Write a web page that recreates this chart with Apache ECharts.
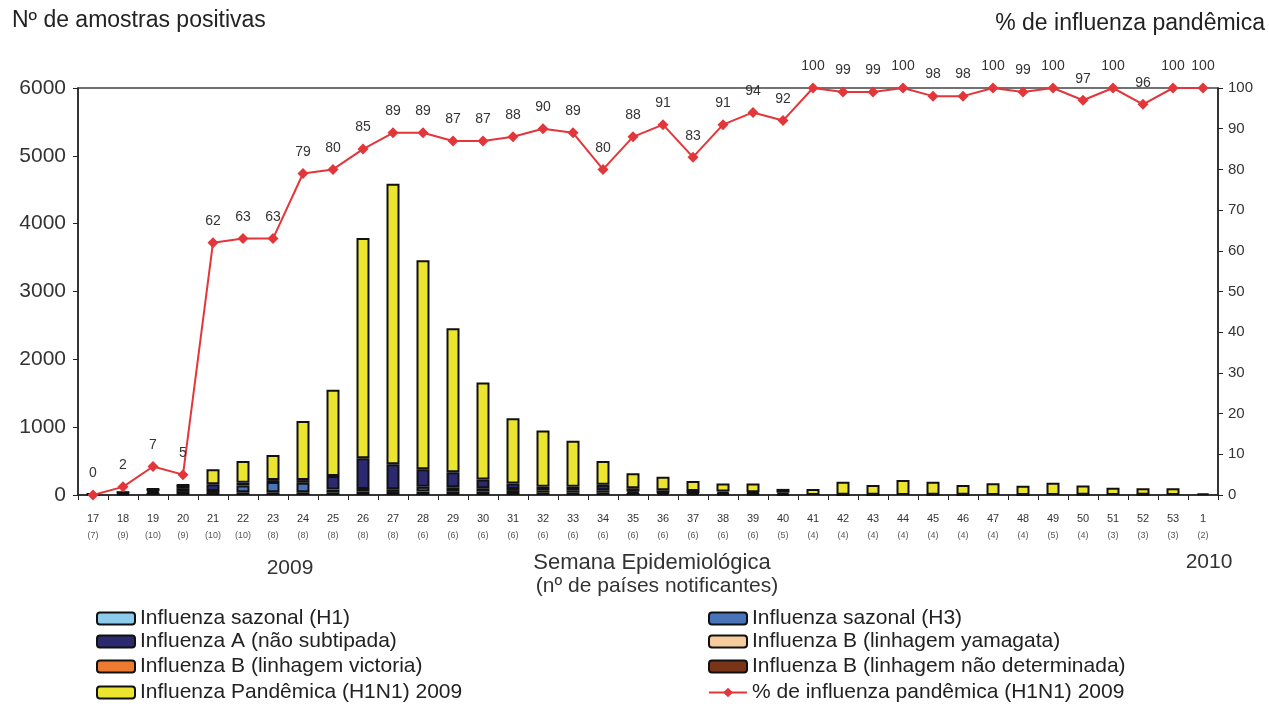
<!DOCTYPE html>
<html>
<head>
<meta charset="utf-8">
<script src="https://cdn.jsdelivr.net/npm/echarts@6/dist/echarts.min.js"></script>
<style>
html,body{margin:0;padding:0;background:#fff;}
#chart{width:1269px;height:706px;}
</style>
</head>
<body>
<div id="chart"></div>
<script>
const weeks = ['17','18','19','20','21','22','23','24','25','26','27','28','29','30','31','32','33','34','35','36','37','38','39','40','41','42','43','44','45','46','47','48','49','50','51','52','53','1'];
const countries = ['7','9','10','9','10','10','8','8','8','8','8','6','6','6','6','6','6','6','6','6','6','6','6','5','4','4','4','4','4','4','4','4','5','4','3','3','3','2'];

const sazonalH1 = [8,15,35,45,30,40,40,40,40,50,45,50,55,50,60,40,40,40,30,25,20,15,15,10,0,0,0,0,0,0,0,0,0,0,0,0,0,0];
const sazonalH3 = [5,10,20,45,30,100,150,140,40,40,40,70,60,50,30,30,30,30,20,10,10,10,5,0,0,0,0,0,0,0,0,0,0,0,0,0,0,0];
const aNaoSubtipada = [7,14,30,55,100,40,30,40,200,450,370,260,220,130,80,50,50,80,50,35,30,25,20,25,0,2,2,0,4,3,0,1,0,4,0,4,0,0];
const bYamagata = [0,0,0,0,0,0,0,0,0,0,0,0,0,0,0,0,0,0,0,0,0,0,0,0,0,0,0,0,0,0,0,0,0,0,0,0,0,0];
const bVictoria = [0,0,0,0,0,0,0,0,0,0,0,0,0,0,0,0,0,0,0,0,0,0,0,0,0,0,0,0,0,0,0,0,0,0,0,0,0,0];
const bNaoDeterminada = [0,0,0,0,0,0,0,0,0,0,0,0,0,0,0,0,0,0,0,0,0,0,0,0,0,0,0,0,0,0,0,0,0,0,0,0,0,0];
const pandemica = [0,1,5,5,220,320,370,870,1270,3250,4135,3080,2125,1430,960,830,680,350,220,200,145,120,130,55,88,194,146,221,192,145,172,136,182,137,108,94,98,25];
const pctPandemica = [0,2,7,5,62,63,63,79,80,85,89,89,87,87,88,90,89,80,88,91,83,91,94,92,100,99,99,100,98,98,100,99,100,97,100,96,100,100];

const leftTicks = [0,1000,2000,3000,4000,5000,6000];
const rightTicks = [0,10,20,30,40,50,60,70,80,90,100];

const FONT = '"Liberation Sans", Arial, sans-serif';
const chart = echarts.init(document.getElementById('chart'));

function barSeries(name, data, color) {
  return {
    name: name,
    type: 'bar',
    stack: 'total',
    yAxisIndex: 0,
    barWidth: 13,
    data: data.map(v => v === 0 ? '-' : v),
    itemStyle: { color: color, borderColor: '#111', borderWidth: 2 },
    z: 2
  };
}

const legendText = { fontSize: 21, lineHeight: 21, color: '#222', fontFamily: FONT };
function leg(left, top, name) {
  return { orient: 'horizontal', left: left, top: top, padding: 0, itemWidth: 38, itemHeight: 12, textStyle: legendText, data: [name] };
}

const option = {
  animation: false,
  backgroundColor: '#ffffff',
  textStyle: { fontFamily: FONT },
  grid: { left: 78, right: 51, top: 88, bottom: 211, show: true, borderColor: '#444', borderWidth: 1.5, backgroundColor: 'transparent' },
  xAxis: {
    type: 'category',
    data: weeks,
    axisLine: { lineStyle: { color: '#222', width: 1.5 } },
    axisTick: { show: true, length: 5, lineStyle: { color: '#222' } },
    axisLabel: {
      interval: 0,
      margin: 16,
      formatter: function (v, i) { return '{w|' + v + '}\n{c|(' + countries[i] + ')}'; },
      rich: {
        w: { fontSize: 11, lineHeight: 16, color: '#333', fontFamily: FONT },
        c: { fontSize: 9, lineHeight: 18, color: '#555', fontFamily: FONT }
      }
    }
  },
  yAxis: [
    {
      type: 'value', min: 0, max: leftTicks[leftTicks.length - 1], interval: leftTicks[1] - leftTicks[0],
      axisLine: { show: true, lineStyle: { color: '#222', width: 1.5 } },
      axisTick: { show: true, length: 5, lineStyle: { color: '#222' } },
      splitLine: { show: false },
      axisLabel: { fontSize: 21, color: '#333', margin: 12, fontFamily: FONT, formatter: v => String(v) }
    },
    {
      type: 'value', min: 0, max: rightTicks[rightTicks.length - 1], interval: rightTicks[1] - rightTicks[0],
      position: 'right',
      axisLine: { show: true, lineStyle: { color: '#222', width: 1.5 } },
      axisTick: { show: true, length: 5, lineStyle: { color: '#222' } },
      splitLine: { show: false },
      axisLabel: { fontSize: 15, color: '#333', margin: 10, fontFamily: FONT, formatter: v => String(v) }
    }
  ],
  legend: [
    leg(96, 608, 'Influenza sazonal (H1)'),
    leg(96, 631, 'Influenza A (não subtipada)'),
    leg(96, 656, 'Influenza B (linhagem victoria)'),
    leg(96, 682, 'Influenza Pandêmica (H1N1) 2009'),
    leg(708, 608, 'Influenza sazonal (H3)'),
    leg(708, 631, 'Influenza B (linhagem yamagata)'),
    leg(708, 656, 'Influenza B (linhagem não determinada)'),
    leg(708, 682, '% de influenza pandêmica (H1N1) 2009')
  ],
  graphic: [
    { type: 'text', left: 12, top: 9, style: { text: 'Nº de amostras positivas', fontSize: 23, fill: '#222', fontFamily: FONT } },
    { type: 'text', right: 4, top: 12, style: { text: '% de influenza pandêmica', fontSize: 23, fill: '#222', fontFamily: FONT } },
    { type: 'text', x: 652, y: 563, style: { text: 'Semana Epidemiológica', fontSize: 22, fill: '#333', fontFamily: FONT, align: 'center', verticalAlign: 'middle' } },
    { type: 'text', x: 657, y: 586, style: { text: '(nº de países notificantes)', fontSize: 21, fill: '#333', fontFamily: FONT, align: 'center', verticalAlign: 'middle' } },
    { type: 'text', x: 290, y: 568, style: { text: '2009', fontSize: 21, fill: '#333', fontFamily: FONT, align: 'center', verticalAlign: 'middle' } },
    { type: 'text', x: 1209, y: 562, style: { text: '2010', fontSize: 21, fill: '#333', fontFamily: FONT, align: 'center', verticalAlign: 'middle' } }
  ],
  series: [
    barSeries('Influenza sazonal (H1)', sazonalH1, '#8ccbea'),
    barSeries('Influenza sazonal (H3)', sazonalH3, '#4a74ba'),
    barSeries('Influenza A (não subtipada)', aNaoSubtipada, '#2b2a6e'),
    barSeries('Influenza B (linhagem yamagata)', bYamagata, '#f6cc9c'),
    barSeries('Influenza B (linhagem victoria)', bVictoria, '#ee7a32'),
    barSeries('Influenza B (linhagem não determinada)', bNaoDeterminada, '#7a3519'),
    barSeries('Influenza Pandêmica (H1N1) 2009', pandemica, '#ece52f'),
    {
      name: '% de influenza pandêmica (H1N1) 2009',
      type: 'line',
      yAxisIndex: 1,
      data: pctPandemica,
      symbol: 'diamond',
      symbolSize: 11,
      z: 5,
      lineStyle: { color: '#e2363a', width: 2 },
      itemStyle: { color: '#e2363a' },
      label: { show: true, position: 'top', distance: 9, fontSize: 14, color: '#333', fontFamily: FONT }
    }
  ]
};
chart.setOption(option);
</script>
</body>
</html>
